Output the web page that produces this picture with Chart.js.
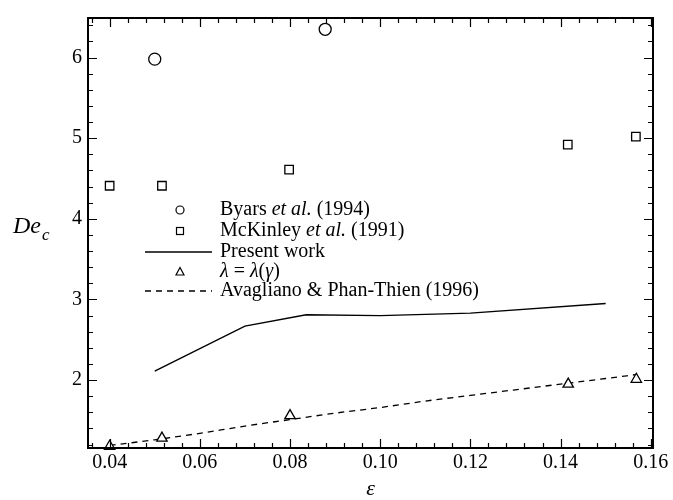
<!DOCTYPE html>
<html>
<head>
<meta charset="utf-8">
<script src="https://cdn.jsdelivr.net/npm/chart.js@4/dist/chart.umd.min.js"></script>
<style>
html,body{margin:0;padding:0;background:#fff;}
#wrap{width:673px;height:500px;position:relative;}
</style>
</head>
<body>
<div id="wrap"><canvas id="c" width="673" height="500"></canvas></div>
<script>
// ---- data ----
const xTicks = [0.04, 0.06, 0.08, 0.10, 0.12, 0.14, 0.16];
const xTickLabels = ['0.04', '0.06', '0.08', '0.10', '0.12', '0.14', '0.16'];
const yTicks = [2, 3, 4, 5, 6];
const yTickLabels = ['2', '3', '4', '5', '6'];

const byarsX = [0.050, 0.0878];
const byarsY = [5.98, 6.35];

const mckinleyX = [0.040, 0.0516, 0.0798, 0.1416, 0.1567];
const mckinleyY = [4.41, 4.41, 4.61, 4.92, 5.02];

const presentX = [0.050, 0.070, 0.0836, 0.100, 0.120, 0.150];
const presentY = [2.11, 2.67, 2.81, 2.80, 2.83, 2.95];

const lambdaX = [0.040, 0.0516, 0.0800, 0.1417, 0.1568];
const lambdaY = [1.18, 1.28, 1.56, 1.95, 2.01];

const avagX = [0.040, 0.050, 0.060, 0.070, 0.080, 0.090, 0.100, 0.110, 0.120, 0.130, 0.140, 0.150, 0.157];
const avagY = [1.19, 1.26, 1.34, 1.43, 1.51, 1.59, 1.66, 1.74, 1.81, 1.88, 1.95, 2.02, 2.07];

const xTitle = 'ε';
const yTitleMain = 'De';
const yTitleSub = 'c';

// legend labels: segments [text, italic?]
const legendByars = [['Byars ', false], ['et al.', true], [' (1994)', false]];
const legendMcKinley = [['McKinley ', false], ['et al.', true], [' (1991)', false]];
const legendPresent = [['Present work', false]];
const legendLambda = [['λ', true], [' = ', false], ['λ', true], ['(', false], ['γ', true], [')', false]];
const legendAvag = [['Avagliano & Phan-Thien (1996)', false]];

const toPts = (xs, ys) => xs.map((x, i) => ({x: x, y: ys[i]}));
const SERIF = '"Liberation Serif", "Times New Roman", serif';

const datasets = [
  {label: 'Present work', data: toPts(presentX, presentY), showLine: true, borderColor: '#000', borderWidth: 1.4, pointRadius: 0, order: 3, tension: 0},
  {label: 'Avagliano & Phan-Thien (1996)', data: toPts(avagX, avagY), showLine: true, borderColor: '#000', borderWidth: 1.3, borderDash: [6, 5], pointRadius: 0, order: 3, cubicInterpolationMode: 'monotone'},
  {label: 'Byars et al. (1994)', data: toPts(byarsX, byarsY), showLine: false, pointStyle: 'circle', pointRadius: 6, borderColor: '#000', backgroundColor: '#fff', pointBorderWidth: 1.3, order: 1},
  {label: 'McKinley et al. (1991)', data: toPts(mckinleyX, mckinleyY), showLine: false, pointStyle: 'rect', pointRadius: 6, borderColor: '#000', backgroundColor: '#fff', pointBorderWidth: 1.3, order: 1},
  {label: 'λ = λ(γ)', data: toPts(lambdaX, lambdaY), showLine: false, pointStyle: 'triangle', pointRadius: 6, borderColor: '#000', backgroundColor: '#fff', pointBorderWidth: 1.3, order: 1}
];

function drawSegments(ctx, segs, x, y, size) {
  let cx = x;
  segs.forEach(([t, it]) => {
    ctx.font = (it ? 'italic ' : '') + size + 'px ' + SERIF;
    ctx.fillText(t, cx, y);
    cx += ctx.measureText(t).width;
  });
}

const framePlugin = {
  id: 'frame',
  afterDraw(chart) {
    const ctx = chart.ctx;
    const a = chart.chartArea;
    const xs = chart.scales.x, ys = chart.scales.y;
    ctx.save();
    ctx.strokeStyle = '#000';
    // ticks
    ctx.lineWidth = 1.2;
    ctx.beginPath();
    for (let v = 0.036; v <= 0.1606; v += 0.004) {
      const px = Math.round(xs.getPixelForValue(v)) + 0.5;
      const major = xTicks.some(t => Math.abs(t - v) < 1e-6);
      const L = major ? 9 : 5;
      ctx.moveTo(px, a.bottom); ctx.lineTo(px, a.bottom - L);
      ctx.moveTo(px, a.top); ctx.lineTo(px, a.top + L);
    }
    for (let v = 1.2; v <= 6.49; v += 0.2) {
      const py = Math.round(ys.getPixelForValue(v)) + 0.5;
      const major = yTicks.some(t => Math.abs(t - v) < 1e-6);
      const L = major ? 9 : 5;
      ctx.moveTo(a.left, py); ctx.lineTo(a.left + L, py);
      ctx.moveTo(a.right, py); ctx.lineTo(a.right - L, py);
    }
    ctx.stroke();
    // frame
    ctx.lineWidth = 2;
    ctx.strokeRect(a.left, a.top, a.right - a.left, a.bottom - a.top);

    // titles
    ctx.fillStyle = '#000';
    ctx.textBaseline = 'alphabetic';
    ctx.textAlign = 'left';
    ctx.font = 'italic 24px ' + SERIF;
    ctx.fillText(yTitleMain, 13, 233);
    const w = ctx.measureText(yTitleMain).width;
    ctx.font = 'italic 17px ' + SERIF;
    ctx.fillText(yTitleSub, 13 + w + 1, 240);
    ctx.textAlign = 'center';
    ctx.font = 'italic 22px ' + SERIF;
    ctx.fillText(xTitle, (a.left + a.right) / 2, 495);

    // legend
    ctx.textAlign = 'left';
    ctx.textBaseline = 'middle';
    const tx = 220, sx = 180;
    const rows = [210, 231, 252, 272, 291];
    ctx.lineWidth = 1.2;
    // circle
    ctx.beginPath(); ctx.arc(sx, rows[0], 4, 0, Math.PI * 2); ctx.stroke();
    // square
    ctx.strokeRect(sx - 3.5, rows[1] - 3.5, 7, 7);
    // line
    ctx.lineWidth = 1.4;
    ctx.beginPath(); ctx.moveTo(145, rows[2]); ctx.lineTo(212, rows[2]); ctx.stroke();
    // triangle
    ctx.lineWidth = 1.2;
    ctx.beginPath(); ctx.moveTo(sx, rows[3] - 4.5); ctx.lineTo(sx + 4, rows[3] + 3); ctx.lineTo(sx - 4, rows[3] + 3); ctx.closePath(); ctx.stroke();
    // dashed
    ctx.setLineDash([6, 5]);
    ctx.lineWidth = 1.3;
    ctx.beginPath(); ctx.moveTo(145, rows[4]); ctx.lineTo(212, rows[4]); ctx.stroke();
    ctx.setLineDash([]);
    const legs = [legendByars, legendMcKinley, legendPresent, legendLambda, legendAvag];
    legs.forEach((s, i) => drawSegments(ctx, s, tx, rows[i], 20));
    ctx.restore();
  }
};

new Chart(document.getElementById('c'), {
  type: 'scatter',
  data: {datasets: datasets},
  options: {
    responsive: false,
    animation: false,
    layout: {padding: {top: 9, right: 20, left: 0, bottom: 0}},
    plugins: {legend: {display: false}, tooltip: {enabled: false}},
    elements: {line: {fill: false}},
    datasets: {scatter: {clip: false}},
    scales: {
      x: {
        type: 'linear', min: 0.0352, max: 0.1605,
        grid: {display: false, drawTicks: false},
        border: {display: false},
        afterBuildTicks: s => { s.ticks = xTicks.map(v => ({value: v})); },
        afterFit: s => { s.height = 52; },
        ticks: {
          color: '#000', padding: 3, maxRotation: 0, autoSkip: false,
          font: {family: SERIF, size: 20},
          callback: (v, i) => xTickLabels[i]
        }
      },
      y: {
        type: 'linear', min: 1.158, max: 6.49,
        grid: {display: false, drawTicks: false},
        border: {display: false},
        afterBuildTicks: s => { s.ticks = yTicks.map(v => ({value: v})); },
        afterFit: s => { s.width = 88; },
        ticks: {
          color: '#000', padding: 6, autoSkip: false,
          font: {family: SERIF, size: 20},
          callback: (v, i) => yTickLabels[i]
        }
      }
    }
  },
  plugins: [framePlugin]
});
</script>
</body>
</html>
